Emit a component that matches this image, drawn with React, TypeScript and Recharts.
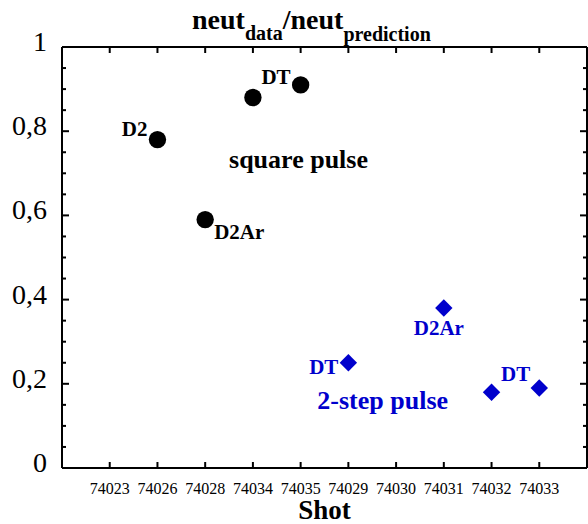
import React from 'react';
import { ScatterChart, Scatter, XAxis, YAxis, ReferenceLine, ReferenceDot } from 'recharts';

const shots = ['74023', '74026', '74028', '74034', '74035', '74029', '74030', '74031', '74032', '74033'];

const squareShots = ['74026', '74028', '74034', '74035'];
const squareRatio = [0.78, 0.59, 0.88, 0.91];
const squareGas = ['D2', 'D2Ar', '', 'DT'];

const twoStepShots = ['74029', '74031', '74032', '74033'];
const twoStepRatio = [0.25, 0.38, 0.18, 0.19];
const twoStepGas = ['DT', 'D2Ar', '', 'DT'];

const yTicks = [0, 0.05, 0.1, 0.15, 0.2, 0.25, 0.3, 0.35, 0.4, 0.45, 0.5, 0.55, 0.6, 0.65, 0.7, 0.75, 0.8, 0.85, 0.9, 0.95, 1];
const yLabels = [0, 0.2, 0.4, 0.6, 0.8, 1];

const W = 588;
const H = 524;
const LEFT = 62;
const TOP = 47;
const RIGHT = 1;
const BOTTOM = 56;
const PLOT_W = W - LEFT - RIGHT;
const PLOT_H = H - TOP - BOTTOM;
const SERIF = '"Liberation Serif", "Times New Roman", serif';
const BLUE = '#0000cc';

// where each gas label sits relative to its marker
const labelPos: Record<string, { dx: number; dy: number; anchor: string }> = {
  '74026': { dx: -10, dy: -4, anchor: 'end' },
  '74028': { dx: 9, dy: 19, anchor: 'start' },
  '74035': { dx: -10, dy: -1, anchor: 'end' },
  '74029': { dx: -10, dy: 11, anchor: 'end' },
  '74031': { dx: -5, dy: 27, anchor: 'middle' },
  '74033': { dx: -9, dy: -7, anchor: 'end' },
};

const squareData = squareShots.map((s, i) => ({ x: shots.indexOf(s), y: squareRatio[i], gas: squareGas[i], shot: s }));
const twoStepData = twoStepShots.map((s, i) => ({ x: shots.indexOf(s), y: twoStepRatio[i], gas: twoStepGas[i], shot: s }));

const GasLabel = ({ cx, cy, payload, color }: any) => {
  const p = labelPos[payload.shot];
  if (!payload.gas || !p) return null;
  return (
    <text x={cx + p.dx} y={cy + p.dy} textAnchor={p.anchor} fontFamily={SERIF} fontWeight="bold" fontSize={21} fill={color}>
      {payload.gas}
    </text>
  );
};

const CircleShape = (props: any) => (
  <g>
    <circle cx={props.cx} cy={props.cy} r={8.7} fill="#000" />
    <GasLabel {...props} color="#000" />
  </g>
);

const DiamondShape = (props: any) => {
  const { cx, cy } = props;
  const r = 8.7;
  return (
    <g>
      <polygon points={`${cx},${cy - r} ${cx + r},${cy} ${cx},${cy + r} ${cx - r},${cy}`} fill={BLUE} />
      <GasLabel {...props} color={BLUE} />
    </g>
  );
};

const YTick = ({ x, y, payload }: any) => {
  const v = payload.value;
  const major = yLabels.some((l) => Math.abs(l - v) < 1e-6);
  const len = major ? 7 : 4;
  return (
    <g>
      <line x1={x} x2={x + len} y1={y} y2={y} stroke="#000" strokeWidth={2} />
      <line x1={x + PLOT_W} x2={x + PLOT_W - len} y1={y} y2={y} stroke="#000" strokeWidth={2} />
      {major && (
        <text x={x - 15} y={y + 4} textAnchor="end" fontFamily={SERIF} fontSize={28} fill="#000">
          {String(v).replace('.', ',')}
        </text>
      )}
    </g>
  );
};

const XTick = ({ x, y, payload }: any) => (
  <g>
    <line x1={x} x2={x} y1={y} y2={y - 6} stroke="#000" strokeWidth={2} />
    <line x1={x} x2={x} y1={y - PLOT_H} y2={y - PLOT_H + 6} stroke="#000" strokeWidth={2} />
    <text x={x} y={y + 26} textAnchor="middle" fontFamily={SERIF} fontSize={16} fill="#000">
      {shots[payload.value]}
    </text>
  </g>
);

const groupLabel = (text: string, color: string) => (props: any) => {
  const vb = props.viewBox;
  return (
    <text x={vb.x} y={vb.y + vb.height / 2 + 9} fontFamily={SERIF} fontWeight="bold" fontSize={26} fill={color}>
      {text}
    </text>
  );
};

export default function App() {
  return (
    <div style={{ position: 'absolute', left: 0, top: 0, width: W, height: H, background: '#fff' }}>
      <ScatterChart width={W} height={H} margin={{ top: TOP, right: RIGHT, bottom: 0, left: 0 }}>
        <XAxis
          type="number"
          dataKey="x"
          domain={[-1, 10]}
          ticks={[0, 1, 2, 3, 4, 5, 6, 7, 8, 9]}
          interval={0}
          tickSize={0}
          tickMargin={0}
          tickLine={false}
          tick={<XTick />}
          height={BOTTOM}
          axisLine={{ stroke: '#000', strokeWidth: 2 }}
          label={({ viewBox }: any) => (
            <text x={viewBox.x + viewBox.width / 2} y={H - 5} textAnchor="middle" fontFamily={SERIF} fontWeight="bold" fontSize={27} fill="#000">
              Shot
            </text>
          )}
        />
        <YAxis
          type="number"
          dataKey="y"
          domain={[0, 1]}
          ticks={yTicks}
          interval={0}
          tickSize={0}
          tickMargin={0}
          tickLine={false}
          tick={<YTick />}
          width={LEFT}
          axisLine={{ stroke: '#000', strokeWidth: 2 }}
        />
        <ReferenceLine x={10} stroke="#000" strokeWidth={2} />
        <ReferenceLine y={1} stroke="#000" strokeWidth={2} />
        <ReferenceDot x={2.5} y={0.734} r={0} fill="none" stroke="none" label={groupLabel('square pulse', '#000')} />
        <ReferenceDot x={4.35} y={0.162} r={0} fill="none" stroke="none" label={groupLabel('2-step pulse', BLUE)} />
        <Scatter data={squareData} shape={CircleShape} isAnimationActive={false} />
        <Scatter data={twoStepData} shape={DiamondShape} isAnimationActive={false} />
      </ScatterChart>
      <svg width={W} height={50} style={{ position: 'absolute', left: 0, top: 0, pointerEvents: 'none' }}>
        <text x={192} y={29} fontFamily={SERIF} fontWeight="bold" fontSize={28} fill="#000">
          neut
          <tspan fontSize={20} dy={11}>data</tspan>
          <tspan fontSize={28} dy={-11}>/neut</tspan>
          <tspan fontSize={20} dy={12}>prediction</tspan>
        </text>
      </svg>
    </div>
  );
}
